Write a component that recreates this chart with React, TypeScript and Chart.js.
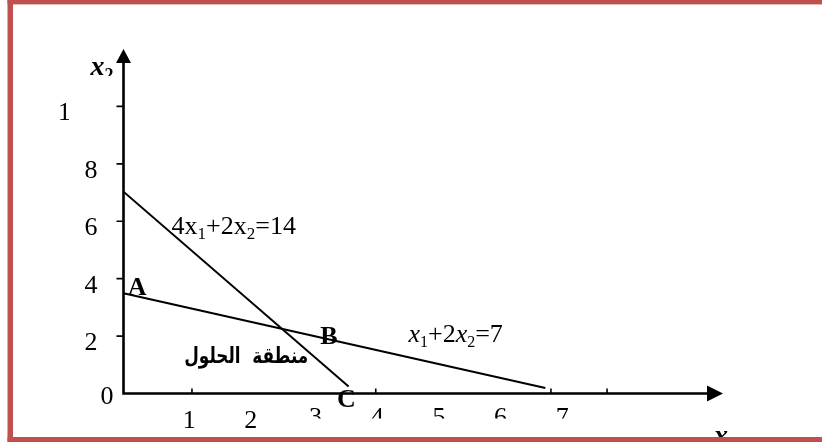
import React, { useEffect, useRef } from "react";
import { Chart, registerables } from "chart.js";

Chart.register(...registerables);

// ---- data ----
const line1X = [0, 3.65]; // 4x1 + 2x2 = 14
const line1Y = [7.03, 0.24];
const line2X = [0, 6.84]; // x1 + 2x2 = 7
const line2Y = [3.49, 0.19];

const xTickLabelValues = [1, 2, 3, 4, 5, 6, 7];
const xTickLabels = ["1", "2", "3", "4", "5", "6", "7"];
const yTickValues = [0, 2, 4, 6, 8, 10];
const yTickLabels = ["0", "2", "4", "6", "8", "10"];
const xTickMarks = [1.11, 4.09, 6.93, 7.84];
const yTickMarks = [2, 4, 6, 8, 10];

const eq1Text = { main1: "4x", sub1: "1", main2: "+2x", sub2: "2", main3: "=14" };
const eq1Pos = [0.78, 5.57];
const eq2Pos = [4.62, 1.79];
const pointNames = ["A", "B", "C"];
const pointNamePos = [
  [0.07, 3.42],
  [3.19, 1.72],
  [3.46, -0.47],
];
const regionLabel = "منطقة  الحلول";
const regionPos = [1.99, 1.06];

const X_MAX = 9.72;
const Y_MAX = 12.0;

const SERIF = "'Liberation Serif', 'Times New Roman', serif";

type Part = { text: string; font: string; dy?: number };

function drawParts(ctx: CanvasRenderingContext2D, parts: Part[], x: number, y: number) {
  let cx = x;
  for (const p of parts) {
    ctx.font = p.font;
    ctx.fillText(p.text, cx, y + (p.dy || 0));
    cx += ctx.measureText(p.text).width;
  }
}

const overlayPlugin = {
  id: "overlay",
  afterDraw(chart: any) {
    const ctx: CanvasRenderingContext2D = chart.ctx;
    const xs = chart.scales.x;
    const ys = chart.scales.y;
    const X = (v: number) => xs.getPixelForValue(v);
    const Y = (v: number) => ys.getPixelForValue(v);
    const area = chart.chartArea;
    const x0 = X(0);
    const y0 = Y(0);

    ctx.save();
    ctx.strokeStyle = "#000";
    ctx.fillStyle = "#000";
    ctx.lineWidth = 2.6;
    ctx.lineCap = "butt";

    // axes
    ctx.beginPath();
    ctx.moveTo(x0, y0 + 1.3);
    ctx.lineTo(x0, area.top + 12);
    ctx.moveTo(x0, y0);
    ctx.lineTo(area.right - 14, y0);
    ctx.stroke();

    // arrows
    ctx.beginPath();
    ctx.moveTo(x0, area.top);
    ctx.lineTo(x0 - 7.5, area.top + 14);
    ctx.lineTo(x0 + 7.5, area.top + 14);
    ctx.closePath();
    ctx.fill();
    ctx.beginPath();
    ctx.moveTo(area.right, y0);
    ctx.lineTo(area.right - 16, y0 - 8);
    ctx.lineTo(area.right - 16, y0 + 8);
    ctx.closePath();
    ctx.fill();

    // tick marks
    ctx.lineWidth = 1.6;
    ctx.beginPath();
    for (const v of yTickMarks) {
      ctx.moveTo(x0 - 7, Y(v));
      ctx.lineTo(x0, Y(v));
    }
    for (const v of xTickMarks) {
      ctx.moveTo(X(v), y0 - 5);
      ctx.lineTo(X(v), y0);
    }
    ctx.stroke();

    // y tick labels
    ctx.font = `26px ${SERIF}`;
    ctx.textAlign = "center";
    ctx.textBaseline = "alphabetic";
    yTickValues.forEach((v, i) => {
      const lbl = yTickLabels[i];
      const px = v === 0 ? 107 : v === 10 ? 71 : 91;
      if (v === 10) {
        ctx.save();
        ctx.beginPath();
        ctx.rect(0, 0, px - 2, 444);
        ctx.clip();
        ctx.fillText(lbl, px, Y(v) + 14);
        ctx.restore();
      } else {
        ctx.fillText(lbl, px, Y(v) + (v === 0 ? 10 : 14));
      }
    });

    // x tick labels (3..7 are cut off at the bottom in the reference)
    xTickLabelValues.forEach((v, i) => {
      const px = X(v) + (v <= 2 ? 4 : 7);
      if (v <= 2) {
        ctx.fillText(xTickLabels[i], px, y0 + 34);
      } else {
        ctx.save();
        ctx.beginPath();
        ctx.rect(0, 0, 822, y0 + 25);
        ctx.clip();
        ctx.fillText(xTickLabels[i], px, y0 + 31);
        ctx.restore();
      }
    });

    // axis titles
    ctx.textAlign = "left";
    ctx.save();
    ctx.beginPath();
    ctx.rect(0, 0, 822, 76);
    ctx.clip();
    drawParts(
      ctx,
      [
        { text: "x", font: `italic bold 28px ${SERIF}` },
        { text: "2", font: `bold 18px ${SERIF}`, dy: 6 },
      ],
      x0 - 33,
      75
    );
    ctx.restore();

    ctx.save();
    ctx.beginPath();
    ctx.rect(0, 0, 822, 437);
    ctx.clip();
    drawParts(
      ctx,
      [
        { text: "x", font: `italic bold 28px ${SERIF}` },
        { text: "1", font: `bold 18px ${SERIF}`, dy: 6 },
      ],
      area.right - 9,
      y0 + 50
    );
    ctx.restore();

    // equation labels
    drawParts(
      ctx,
      [
        { text: eq1Text.main1, font: `26px ${SERIF}` },
        { text: eq1Text.sub1, font: `17px ${SERIF}`, dy: 5 },
        { text: eq1Text.main2, font: `26px ${SERIF}` },
        { text: eq1Text.sub2, font: `17px ${SERIF}`, dy: 5 },
        { text: eq1Text.main3, font: `26px ${SERIF}` },
      ],
      X(eq1Pos[0]),
      Y(eq1Pos[1])
    );
    drawParts(
      ctx,
      [
        { text: "x", font: `italic 26px ${SERIF}` },
        { text: "1", font: `16px ${SERIF}`, dy: 5 },
        { text: "+2", font: `26px ${SERIF}` },
        { text: "x", font: `italic 26px ${SERIF}` },
        { text: "2", font: `16px ${SERIF}`, dy: 5 },
        { text: "=7", font: `26px ${SERIF}` },
      ],
      X(eq2Pos[0]),
      Y(eq2Pos[1])
    );

    // point names
    ctx.font = `bold 26px ${SERIF}`;
    pointNames.forEach((n, i) => {
      ctx.fillText(n, X(pointNamePos[i][0]), Y(pointNamePos[i][1]));
    });

    // region label, fitted to the width it takes in the reference
    ctx.textAlign = "center";
    ctx.font = "bold 22px 'DejaVu Sans', sans-serif";
    const w = ctx.measureText(regionLabel).width;
    const sx = Math.min(1, 124 / w);
    ctx.save();
    ctx.translate(X(regionPos[0]), Y(regionPos[1]));
    ctx.scale(sx, 1);
    ctx.fillText(regionLabel, 0, 0);
    ctx.restore();

    // frame
    ctx.fillStyle = "#C0504D";
    ctx.fillRect(7.5, 0, 5.5, 442);
    ctx.fillRect(7.5, 0, 822, 4.4);
    ctx.fillRect(7.5, 437, 822, 5);
    ctx.restore();
  },
};

export default function App() {
  const canvasRef = useRef<HTMLCanvasElement | null>(null);

  useEffect(() => {
    const canvas = canvasRef.current;
    if (!canvas) return;
    const chart = new Chart(canvas, {
      type: "scatter",
      data: {
        datasets: [
          {
            label: "4x1+2x2=14",
            data: line1X.map((x, i) => ({ x, y: line1Y[i] })),
            showLine: true,
            borderColor: "#000",
            borderWidth: 2,
            pointRadius: 0,
          },
          {
            label: "x1+2x2=7",
            data: line2X.map((x, i) => ({ x, y: line2Y[i] })),
            showLine: true,
            borderColor: "#000",
            borderWidth: 2,
            pointRadius: 0,
          },
        ],
      },
      options: {
        animation: false,
        responsive: false,
        devicePixelRatio: 1,
        layout: { padding: { left: 123.5, right: 99, top: 49, bottom: 50.5 } },
        scales: {
          x: { type: "linear", min: 0, max: X_MAX, display: false },
          y: { type: "linear", min: 0, max: Y_MAX, display: false },
        },
        plugins: {
          legend: { display: false },
          tooltip: { enabled: false },
        },
      },
      plugins: [overlayPlugin],
    });
    return () => chart.destroy();
  }, []);

  return (
    <div style={{ position: "absolute", left: 0, top: 0, width: 822, height: 444, background: "#fff" }}>
      <canvas ref={canvasRef} width={822} height={444} style={{ display: "block" }} />
    </div>
  );
}
